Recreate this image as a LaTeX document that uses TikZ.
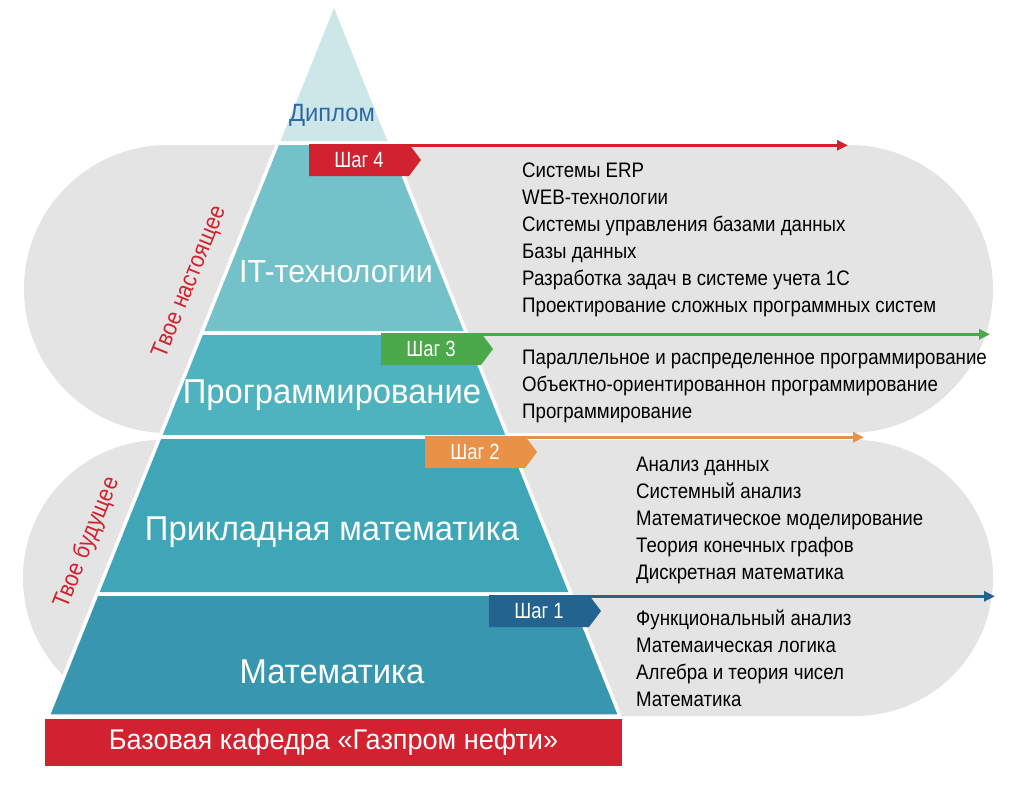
\documentclass[tikz,border=0pt]{standalone}
\usepackage{fontspec}
\setmainfont{Liberation Sans}
\newfontfamily\condf[FakeStretch=0.89]{Liberation Sans}
\newfontfamily\stepf[FakeStretch=0.84]{Liberation Sans}
\newfontfamily\titf[FakeStretch=0.95]{Liberation Sans}
\usetikzlibrary{shapes.symbols,arrows.meta}
\definecolor{cDip}{HTML}{CDE7E8}
\definecolor{cIT}{HTML}{74C2C9}
\definecolor{cProg}{HTML}{4FB3BF}
\definecolor{cAppl}{HTML}{3EA6B6}
\definecolor{cMath}{HTML}{3896AF}
\definecolor{cGray}{HTML}{E4E4E4}
\definecolor{cRed}{HTML}{D3222F}
\definecolor{cGreen}{HTML}{4BA84B}
\definecolor{cOrange}{HTML}{EA9148}
\definecolor{cBlue}{HTML}{23638F}
\definecolor{cDipText}{HTML}{2E69A7}
\tikzset{
  layer/.style={draw=white, line width=3.5pt, line join=round},
  title/.style={text=white, font=\titf\fontsize{34.5}{38}\selectfont, inner sep=0pt},
  stepbox/.style={shape=signal, signal to=east, signal pointer angle=106,
     minimum height=32pt, minimum width=112pt, inner sep=0pt, text=white,
     font=\stepf\fontsize{22}{26}\selectfont},
  steparrow/.style={line width=3pt, -{Triangle[length=11pt,width=10pt]}},
  listtext/.style={align=left, anchor=north west, inner sep=0pt,
     font=\condf\fontsize{21}{27}\selectfont, text=black},
  sidetext/.style={text=cRed, rotate=68, font=\condf\fontsize{24}{28}\selectfont, inner sep=0pt}
}
\begin{document}
\begin{tikzpicture}[x=1pt,y=-1pt]
\useasboundingbox (0,0) rectangle (1016,784);
\fill[white] (0,0) rectangle (1016,784);
% grey backgrounds
\fill[cGray, rounded corners=143.9pt] (24,145) rectangle (993,433);
\fill[cGray, rounded corners=137.9pt] (23,440) rectangle (993,716);
% pyramid layers
\filldraw[layer, fill=cDip] (334,3) -- (390.2,143) -- (277.8,143) -- cycle;
\filldraw[layer, fill=cIT] (277.8,143) -- (390.2,143) -- (466.4,333) -- (201.6,333) -- cycle;
\filldraw[layer, fill=cProg] (201.6,333) -- (466.4,333) -- (508.1,437) -- (159.9,437) -- cycle;
\filldraw[layer, fill=cAppl] (159.9,437) -- (508.1,437) -- (571.1,594) -- (96.9,594) -- cycle;
\filldraw[layer, fill=cMath] (96.9,594) -- (571.1,594) -- (620,716) -- (48,716) -- cycle;
% base bar
\node[fill=cRed, minimum width=577pt, minimum height=47pt, inner sep=0pt, text=white,
      font=\titf\fontsize{28.5}{32}\selectfont] (base) at (333.5,742) {Базовая кафедра «Газпром нефти»};
% titles
\node[text=cDipText, font=\titf\fontsize{25}{30}\selectfont, inner sep=0pt] (dip) at (332,115) {Диплом};
\node[title, font=\titf\fontsize{32}{36}\selectfont] (it) at (336,272) {IT-технологии};
\node[title] (prog) at (332,395) {Программирование};
\node[title] (appl) at (332,532) {Прикладная математика};
\node[title] (math) at (332,672) {Математика};
% side texts
\node[sidetext] (now) at (190,282) {Твое настоящее};
\node[sidetext] (fut) at (87,543) {Твое будущее};
% steps
\node[stepbox, fill=cRed] (s4) at (359,160) {Шаг 4};
\node[stepbox, fill=cGreen] (s3) at (431,349) {Шаг 3};
\node[stepbox, fill=cOrange] (s2) at (475,452) {Шаг 2};
\node[stepbox, fill=cBlue] (s1) at (539,611) {Шаг 1};
\coordinate (e4) at (848,145);
\coordinate (e3) at (990,333);
\coordinate (e2) at (864,437);
\coordinate (e1) at (995,595);
\draw[steparrow, cRed] ([yshift=-1.5pt]s4.north) -- ([yshift=-1.5pt]s4.north -| e4);
\draw[steparrow, cGreen] ([yshift=-1.5pt]s3.north) -- ([yshift=-1.5pt]s3.north -| e3);
\draw[steparrow, cOrange] ([yshift=-1.5pt]s2.north) -- ([yshift=-1.5pt]s2.north -| e2);
\draw[steparrow, cBlue] ([yshift=-1.5pt]s1.north) -- ([yshift=-1.5pt]s1.north -| e1);
% lists
\node[listtext] (l4) at (522,163) {Системы ERP\\WEB-технологии\\Системы управления базами данных\\Базы данных\\Разработка задач в системе учета 1С\\Проектирование сложных программных систем};
\node[listtext] (l3) at (522,349.5) {Параллельное и распределенное программирование\\Объектно-ориентированнон программирование\\Программирование};
\node[listtext] (l2) at (636,456.5) {Анализ данных\\Системный анализ\\Математическое моделирование\\Теория конечных графов\\Дискретная математика};
\node[listtext] (l1) at (636,609.5) {Функциональный анализ\\Матемаическая логика\\Алгебра и теория чисел\\Математика};
\end{tikzpicture}
\end{document}
